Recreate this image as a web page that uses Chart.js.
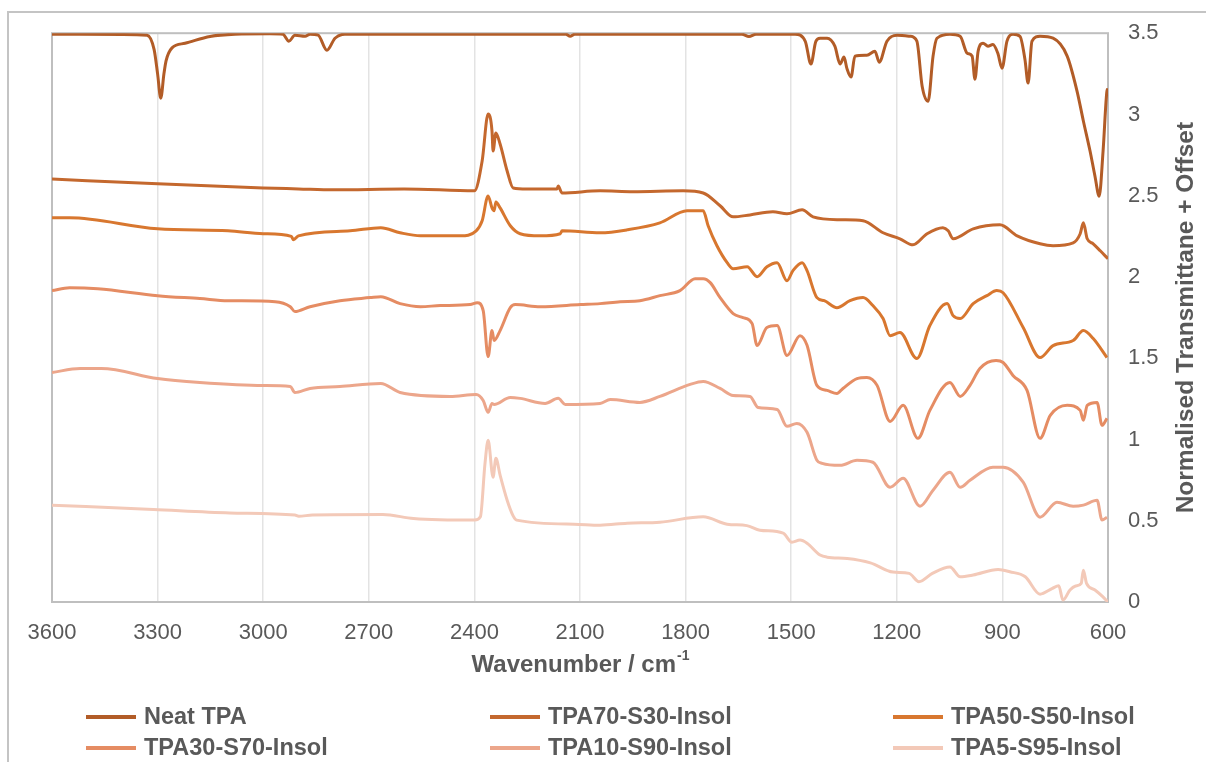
<!DOCTYPE html>
<html>
<head>
<meta charset="utf-8">
<title>FTIR spectra</title>
<script src="https://cdn.jsdelivr.net/npm/chart.js@4.4.1/dist/chart.umd.min.js"></script>
<style>
  html, body { margin: 0; padding: 0; background: #fff; }
  #wrap { width: 1206px; height: 762px; position: relative; }
</style>
</head>
<body>
<div id="wrap"><canvas id="ftir"></canvas></div>
<script>
// axis ticks
const xTickValues = [3600, 3300, 3000, 2700, 2400, 2100, 1800, 1500, 1200, 900, 600];
const yTickValues = [0, 0.5, 1, 1.5, 2, 2.5, 3, 3.5];

const seriesNames = ['Neat TPA', 'TPA70-S30-Insol', 'TPA50-S50-Insol', 'TPA30-S70-Insol', 'TPA10-S90-Insol', 'TPA5-S95-Insol'];
const seriesColors = ['#b25c27', '#c4682e', '#d8772f', '#e58c63', '#eca68b', '#f3c9b8'];

// wavenumber (cm-1) and normalised transmittance + offset
const neatWn = [3600, 3400, 3330, 3310, 3300, 3291, 3282, 3276, 3259, 3222, 3151, 3080, 2981, 2944, 2927, 2910, 2881, 2867, 2844, 2819, 2796, 2768, 2500, 2140, 2128, 2115, 1640, 1620, 1600, 1489, 1460, 1444, 1430, 1418, 1398, 1376, 1361, 1350, 1342, 1330, 1319, 1285, 1262, 1250, 1228, 1199, 1162, 1143, 1128, 1111, 1097, 1086, 1049, 1020, 1000, 986, 978, 969, 955, 941, 927, 913, 901, 887, 870, 850, 836, 827, 816, 793, 756, 716, 688, 670, 651, 637, 625, 614, 603, 600];
const neatT = [3.494, 3.492, 3.488, 3.40, 3.25, 3.10, 3.25, 3.33, 3.41, 3.438, 3.48, 3.494, 3.497, 3.494, 3.451, 3.487, 3.481, 3.494, 3.488, 3.395, 3.469, 3.494, 3.494, 3.494, 3.481, 3.494, 3.494, 3.48, 3.494, 3.494, 3.45, 3.31, 3.45, 3.469, 3.469, 3.42, 3.31, 3.353, 3.285, 3.23, 3.359, 3.365, 3.389, 3.322, 3.451, 3.487, 3.481, 3.451, 3.174, 3.082, 3.359, 3.469, 3.494, 3.481, 3.377, 3.359, 3.217, 3.389, 3.438, 3.42, 3.43, 3.377, 3.285, 3.451, 3.494, 3.481, 3.34, 3.193, 3.451, 3.481, 3.469, 3.359, 3.144, 2.96, 2.775, 2.62, 2.497, 2.775, 3.144, 3.16];

const tpa70Wn = [3600, 3300, 3000, 2900, 2800, 2600, 2400, 2378, 2361, 2350, 2347, 2339, 2327, 2307, 2290, 2251, 2165, 2162, 2151, 2043, 1949, 1807, 1750, 1702, 1665, 1617, 1552, 1512, 1469, 1438, 1361, 1296, 1239, 1191, 1154, 1114, 1069, 1054, 1040, 983, 907, 858, 793, 756, 699, 679, 670, 659, 642, 622, 600];
const tpa70T = [2.603, 2.573, 2.548, 2.542, 2.536, 2.542, 2.53, 2.714, 3.003, 2.898, 2.775, 2.886, 2.818, 2.652, 2.548, 2.542, 2.542, 2.56, 2.517, 2.53, 2.524, 2.53, 2.517, 2.438, 2.37, 2.382, 2.401, 2.389, 2.413, 2.37, 2.352, 2.346, 2.272, 2.235, 2.198, 2.266, 2.303, 2.284, 2.235, 2.296, 2.321, 2.253, 2.204, 2.192, 2.21, 2.266, 2.333, 2.235, 2.204, 2.161, 2.112];

const tpa50Wn = [3600, 3550, 3300, 3100, 3000, 2920, 2914, 2900, 2753, 2666, 2611, 2553, 2440, 2395, 2378, 2361, 2350, 2344, 2339, 2327, 2298, 2270, 2213, 2156, 2151, 2043, 1966, 1873, 1796, 1750, 1736, 1711, 1682, 1665, 1625, 1597, 1569, 1540, 1512, 1495, 1469, 1455, 1427, 1406, 1370, 1333, 1296, 1268, 1239, 1219, 1191, 1143, 1106, 1057, 1040, 1020, 983, 944, 916, 898, 841, 793, 756, 699, 670, 642, 603];
const tpa50T = [2.364, 2.364, 2.296, 2.284, 2.266, 2.25, 2.229, 2.253, 2.284, 2.303, 2.272, 2.253, 2.253, 2.284, 2.346, 2.499, 2.425, 2.407, 2.462, 2.425, 2.315, 2.266, 2.253, 2.266, 2.284, 2.272, 2.29, 2.333, 2.407, 2.407, 2.315, 2.192, 2.088, 2.051, 2.063, 2.002, 2.063, 2.088, 1.977, 2.039, 2.088, 2.039, 1.873, 1.854, 1.811, 1.854, 1.873, 1.824, 1.744, 1.639, 1.658, 1.498, 1.701, 1.836, 1.762, 1.744, 1.836, 1.885, 1.916, 1.903, 1.689, 1.504, 1.578, 1.609, 1.67, 1.621, 1.504];

const tpa30Wn = [3600, 3550, 3470, 3300, 3180, 3100, 2966, 2923, 2910, 2867, 2782, 2696, 2666, 2611, 2553, 2497, 2412, 2392, 2375, 2361, 2350, 2344, 2327, 2298, 2284, 2213, 2099, 2043, 1986, 1930, 1873, 1816, 1773, 1750, 1730, 1702, 1665, 1637, 1611, 1597, 1569, 1540, 1512, 1475, 1455, 1427, 1398, 1370, 1353, 1313, 1285, 1256, 1219, 1182, 1140, 1106, 1049, 1020, 992, 964, 918, 898, 870, 830, 793, 764, 716, 679, 670, 659, 631, 617, 603];
const tpa30T = [1.916, 1.934, 1.928, 1.885, 1.867, 1.854, 1.848, 1.817, 1.787, 1.817, 1.854, 1.873, 1.879, 1.836, 1.817, 1.824, 1.83, 1.842, 1.793, 1.51, 1.67, 1.609, 1.67, 1.811, 1.83, 1.817, 1.83, 1.836, 1.848, 1.854, 1.885, 1.916, 1.989, 1.989, 1.965, 1.873, 1.775, 1.75, 1.713, 1.578, 1.689, 1.701, 1.517, 1.639, 1.58, 1.333, 1.302, 1.283, 1.314, 1.375, 1.382, 1.333, 1.111, 1.21, 1.007, 1.179, 1.351, 1.265, 1.333, 1.437, 1.486, 1.474, 1.394, 1.302, 1.007, 1.148, 1.21, 1.179, 1.118, 1.21, 1.228, 1.087, 1.13];

const tpa10Wn = [3600, 3520, 3460, 3300, 3180, 3000, 2923, 2910, 2867, 2782, 2666, 2611, 2469, 2395, 2375, 2361, 2350, 2344, 2298, 2270, 2199, 2162, 2142, 2043, 2014, 1930, 1873, 1787, 1750, 1702, 1665, 1617, 1594, 1540, 1512, 1484, 1455, 1427, 1412, 1361, 1313, 1268, 1219, 1182, 1134, 1097, 1049, 1020, 992, 927, 898, 841, 793, 745, 699, 670, 631, 617, 603];
const tpa10T = [1.412, 1.437, 1.437, 1.375, 1.351, 1.332, 1.326, 1.289, 1.314, 1.326, 1.345, 1.289, 1.265, 1.277, 1.24, 1.167, 1.222, 1.216, 1.259, 1.253, 1.222, 1.253, 1.216, 1.222, 1.246, 1.228, 1.265, 1.339, 1.357, 1.314, 1.271, 1.265, 1.197, 1.185, 1.081, 1.099, 1.044, 0.872, 0.853, 0.841, 0.872, 0.86, 0.706, 0.761, 0.589, 0.688, 0.798, 0.706, 0.749, 0.829, 0.829, 0.737, 0.522, 0.614, 0.589, 0.596, 0.626, 0.504, 0.522];

const tpa5Wn = [3600, 3312, 3095, 2910, 2899, 2860, 2660, 2573, 2399, 2383, 2370, 2361, 2347, 2339, 2327, 2307, 2290, 2280, 2117, 2043, 1966, 1873, 1750, 1682, 1626, 1589, 1523, 1498, 1475, 1455, 1418, 1398, 1341, 1275, 1211, 1165, 1137, 1099, 1049, 1020, 983, 912, 879, 835, 793, 758, 740, 728, 708, 692, 676, 670, 661, 637, 615, 600];
const tpa5T = [0.596, 0.569, 0.548, 0.535, 0.528, 0.535, 0.538, 0.514, 0.504, 0.524, 0.85, 0.995, 0.768, 0.884, 0.78, 0.626, 0.53, 0.504, 0.479, 0.473, 0.485, 0.491, 0.524, 0.479, 0.47, 0.442, 0.424, 0.368, 0.381, 0.362, 0.289, 0.276, 0.268, 0.241, 0.184, 0.176, 0.125, 0.176, 0.215, 0.155, 0.166, 0.2, 0.186, 0.155, 0.048, 0.084, 0.1, 0.012, 0.074, 0.098, 0.115, 0.196, 0.115, 0.074, 0.033, 0];

const seriesWn = [neatWn, tpa70Wn, tpa50Wn, tpa30Wn, tpa10Wn, tpa5Wn];
const seriesT = [neatT, tpa70T, tpa50T, tpa30T, tpa10T, tpa5T];

const FONT = '"Liberation Sans", Arial, sans-serif';
const TEXT = '#595959';

const datasets = seriesNames.map((name, i) => ({
  label: name,
  data: seriesWn[i].map((w, j) => ({ x: w, y: seriesT[i][j] })),
  borderColor: seriesColors[i],
  backgroundColor: seriesColors[i],
  borderWidth: 3,
  pointRadius: 0,
  cubicInterpolationMode: 'monotone',
  fill: false,
  order: 6 - i
}));

// frame, titles and a 3-column legend like the Excel original
const decorations = {
  id: 'decorations',
  beforeDraw(chart) {
    const ctx = chart.ctx;
    ctx.save();
    ctx.fillStyle = '#fff';
    ctx.fillRect(0, 0, chart.width, chart.height);
    ctx.strokeStyle = '#c4c4c4';
    ctx.lineWidth = 2;
    ctx.strokeRect(8, 12, 1400, 1000);
    ctx.restore();
  },
  beforeDatasetsDraw(chart) {
    const { ctx, chartArea: a } = chart;
    ctx.save();
    ctx.strokeStyle = '#bfbfbf';
    ctx.lineWidth = 2;
    ctx.strokeRect(a.left, a.top, a.right - a.left, a.bottom - a.top);
    ctx.restore();
  },
  afterDraw(chart) {
    const { ctx, chartArea: a } = chart;
    ctx.save();
    ctx.fillStyle = TEXT;

    // x title with superscript
    ctx.font = 'bold 24px ' + FONT;
    ctx.textBaseline = 'alphabetic';
    const main = 'Wavenumber / cm';
    const wMain = ctx.measureText(main).width;
    ctx.font = 'bold 14px ' + FONT;
    const wSup = ctx.measureText('-1').width;
    let x0 = (a.left + a.right) / 2 - (wMain + wSup) / 2;
    ctx.font = 'bold 24px ' + FONT;
    ctx.textAlign = 'left';
    ctx.fillText(main, x0, 672);
    ctx.font = 'bold 14px ' + FONT;
    ctx.fillText('-1', x0 + wMain + 1, 660);

    // y title, reading bottom to top
    ctx.font = 'bold 24.5px ' + FONT;
    ctx.translate(1186, (a.top + a.bottom) / 2);
    ctx.rotate(-Math.PI / 2);
    ctx.textAlign = 'center';
    ctx.textBaseline = 'middle';
    ctx.fillText('Normalised Transmittane + Offset', 0, 0);
    ctx.setTransform(1, 0, 0, 1, 0, 0);

    // legend
    const colX = [86, 490, 893];
    const rowY = [717, 748];
    ctx.font = 'bold 23.5px ' + FONT;
    ctx.textAlign = 'left';
    ctx.textBaseline = 'middle';
    chart.data.datasets.forEach((ds, i) => {
      const cx = colX[i % 3];
      const cy = rowY[Math.floor(i / 3)];
      ctx.strokeStyle = ds.borderColor;
      ctx.lineWidth = 4;
      ctx.beginPath();
      ctx.moveTo(cx, cy);
      ctx.lineTo(cx + 50, cy);
      ctx.stroke();
      ctx.fillStyle = TEXT;
      ctx.fillText(ds.label, cx + 58, cy + 1);
    });
    ctx.restore();
  }
};

new Chart(document.getElementById('ftir'), {
  type: 'line',
  data: { datasets },
  plugins: [decorations],
  options: {
    responsive: true,
    maintainAspectRatio: false,
    animation: false,
    layout: { padding: { left: 52, top: 32, right: 0, bottom: 0 } },
    plugins: {
      legend: { display: false },
      tooltip: { enabled: false }
    },
    scales: {
      x: {
        type: 'linear',
        reverse: true,
        min: 600,
        max: 3600,
        afterBuildTicks: scale => { scale.ticks = xTickValues.map(v => ({ value: v })); },
        afterFit: scale => { scale.height = 160; },
        grid: { color: '#e3e3e3', lineWidth: 1.5, drawTicks: false },
        border: { display: false },
        ticks: {
          padding: 18,
          maxRotation: 0,
          autoSkip: false,
          color: TEXT,
          font: { family: FONT, size: 22 },
          callback: v => String(v)
        }
      },
      y: {
        type: 'linear',
        position: 'right',
        min: 0,
        max: 3.5,
        afterBuildTicks: scale => { scale.ticks = yTickValues.map(v => ({ value: v })); },
        afterFit: scale => { scale.width = 98; },
        grid: { display: false, drawTicks: false },
        border: { display: false },
        ticks: {
          padding: 20,
          color: TEXT,
          font: { family: FONT, size: 22 },
          callback: v => String(v)
        }
      }
    }
  }
});
</script>
</body>
</html>
